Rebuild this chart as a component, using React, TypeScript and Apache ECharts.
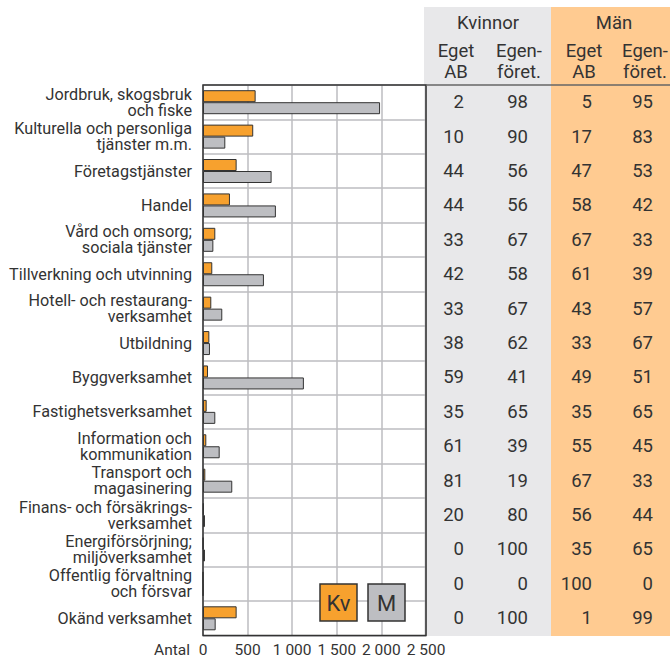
import React, { useEffect, useRef } from "react";
import * as echarts from "echarts";

const categories = [
  "Jordbruk, skogsbruk\noch fiske",
  "Kulturella och personliga\ntjänster m.m.",
  "Företagstjänster",
  "Handel",
  "Vård och omsorg;\nsociala tjänster",
  "Tillverkning och utvinning",
  "Hotell- och restaurang-\nverksamhet",
  "Utbildning",
  "Byggverksamhet",
  "Fastighetsverksamhet",
  "Information och\nkommunikation",
  "Transport och\nmagasinering",
  "Finans- och försäkrings-\nverksamhet",
  "Energiförsörjning;\nmiljöverksamhet",
  "Offentlig förvaltning\noch försvar",
  "Okänd verksamhet",
];

const kvinnorAntal = [590, 563, 377, 302, 138, 104, 93, 71, 56, 41, 37, 26, 8, 3, 0, 377];
const manAntal = [1985, 250, 769, 817, 116, 683, 216, 78, 1131, 138, 187, 328, 22, 22, 2, 142];

const kvEgetAB = [2, 10, 44, 44, 33, 42, 33, 38, 59, 35, 61, 81, 20, 0, 0, 0];
const kvEgenforet = [98, 90, 56, 56, 67, 58, 67, 62, 41, 65, 39, 19, 80, 100, 0, 100];
const mEgetAB = [5, 17, 47, 58, 67, 61, 43, 33, 49, 35, 55, 67, 56, 35, 100, 1];
const mEgenforet = [95, 83, 53, 42, 33, 39, 57, 67, 51, 65, 45, 33, 44, 65, 0, 99];

const xTicks = { min: 0, max: 2500, interval: 500 };

const FONT = "Roboto, 'Noto Sans', sans-serif";
const TXT = "#333333";
const ORANGE = "#F7A12E";
const GREY = "#BDBEC2";

export default function App() {
  const ref = useRef<HTMLDivElement>(null);
  useEffect(() => {
    if (!ref.current) return;
    const chart = echarts.init(ref.current, undefined, { renderer: "svg" });

    const tableCol = (data: number[], offset: number) => ({
      type: "category",
      data: data.map(String),
      inverse: true,
      position: "right",
      offset: offset,
      axisLine: { show: false },
      axisTick: { show: false },
      splitLine: { show: false },
      axisLabel: {
        interval: 0,
        margin: 0,
        align: "right",
        fontSize: 18.5,
        color: TXT,
        fontFamily: FONT,
        padding: [4, 0, 0, 0],
      },
    });

    const headerText = (text: string, x: number, y: number, lh = 21) => ({
      type: "text",
      x,
      y,
      style: {
        text,
        fontSize: 18.5,
        fontFamily: FONT,
        fill: TXT,
        align: "center",
        verticalAlign: "middle",
        lineHeight: lh,
      },
    });

    chart.setOption({
      animation: false,
      grid: {
        left: 203,
        right: 244,
        top: 85,
        bottom: 22,
        show: true,
        borderColor: "#333",
        borderWidth: 1.5,
        backgroundColor: "transparent",
        z: 3,
      },
      graphic: [
        { type: "rect", z: -10, shape: { x: 424, y: 7, width: 127, height: 629 }, style: { fill: "#E8E8EA" } },
        { type: "rect", z: -10, shape: { x: 551, y: 7, width: 119, height: 629 }, style: { fill: "#FFCB91" } },
        { type: "line", z: 5, shape: { x1: 426, y1: 85, x2: 670, y2: 85 }, style: { stroke: "#666", lineWidth: 1.5 } },
        headerText("Kvinnor", 488, 23),
        headerText("Eget\nAB", 456, 61),
        headerText("Egen-\nföret.", 519, 61),
        headerText("Män", 614, 23),
        headerText("Eget\nAB", 584, 61),
        headerText("Egen-\nföret.", 645, 61),
        {
          type: "text",
          x: 190,
          y: 650,
          style: { text: "Antal", fontSize: 15.5, lineHeight: 15, fontFamily: FONT, fill: TXT, align: "right", verticalAlign: "middle" },
        },
        { type: "rect", z: 10, shape: { x: 320, y: 584, width: 37, height: 37 }, style: { fill: ORANGE, stroke: "#333", lineWidth: 1.5 } },
        {
          type: "text", z: 11, x: 338.5, y: 603,
          style: { text: "Kv", fontSize: 22, fontFamily: FONT, fill: TXT, align: "center", verticalAlign: "middle" },
        },
        { type: "rect", z: 10, shape: { x: 368, y: 584, width: 37, height: 37 }, style: { fill: GREY, stroke: "#333", lineWidth: 1.5 } },
        {
          type: "text", z: 11, x: 386.5, y: 603,
          style: { text: "M", fontSize: 22, fontFamily: FONT, fill: TXT, align: "center", verticalAlign: "middle" },
        },
      ],
      xAxis: {
        type: "value",
        min: xTicks.min,
        max: xTicks.max,
        interval: xTicks.interval,
        axisLine: { show: false },
        axisTick: { show: false },
        splitLine: { show: true, lineStyle: { color: "#BDBDC1", width: 1.5 } },
        axisLabel: {
          margin: 7,
          fontSize: 15.5,
          lineHeight: 15,
          fontFamily: FONT,
          color: TXT,
          formatter: (v: number) => (v >= 1000 ? String(v).replace(/(\d)(\d{3})$/, "$1 $2") : String(v)),
        },
      },
      yAxis: [
        {
          type: "category",
          data: categories,
          inverse: true,
          axisLine: { show: false },
          axisTick: { show: false },
          splitLine: { show: true, lineStyle: { color: "#BDBDC1", width: 1.5 } },
          axisLabel: {
            interval: 0,
            margin: 11,
            fontSize: 16.2,
            lineHeight: 16,
            fontFamily: FONT,
            color: TXT,
            align: "right",
          },
        },
        tableCol(kvEgetAB, 38),
        tableCol(kvEgenforet, 102),
        tableCol(mEgetAB, 166),
        tableCol(mEgenforet, 227),
      ],
      series: [
        {
          type: "bar",
          name: "Kv",
          data: kvinnorAntal,
          barWidth: 12,
          barGap: "0%",
          itemStyle: { color: ORANGE, borderColor: "#333", borderWidth: 1 },
        },
        {
          type: "bar",
          name: "M",
          data: manAntal,
          barWidth: 12,
          barGap: "0%",
          itemStyle: { color: GREY, borderColor: "#333", borderWidth: 1 },
        },
      ],
    });
    return () => chart.dispose();
  }, []);
  return (
    <div
      ref={ref}
      style={{ position: "absolute", left: 0, top: 0, width: 670, height: 658 }}
    />
  );
}
